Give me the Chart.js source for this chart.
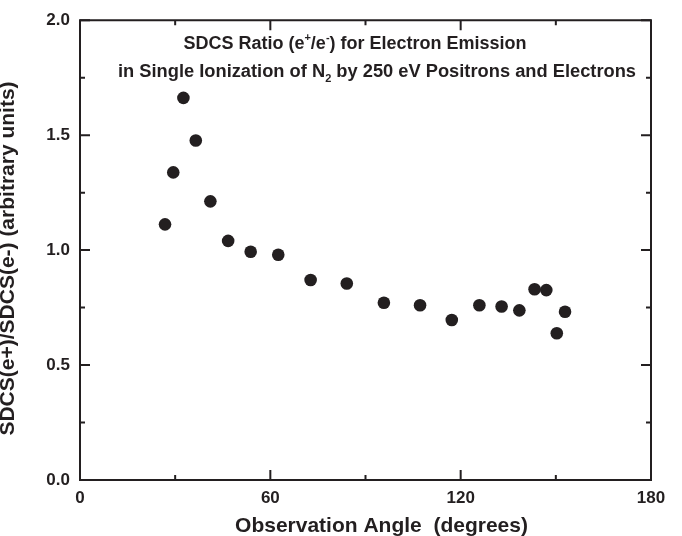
<!DOCTYPE html>
<html>
<head>
<meta charset="utf-8">
<script src="https://cdn.jsdelivr.net/npm/chart.js@4/dist/chart.umd.min.js"></script>
<style>
  html, body { margin: 0; padding: 0; background: #fff; }
  #wrap { width: 682px; height: 536px; position: relative; }
</style>
</head>
<body>
<div id="wrap"><canvas id="c" width="682" height="536"></canvas></div>
<script>
// ---- data ----
const angles = [26.8, 29.4, 32.6, 36.5, 41.1, 46.7, 53.8, 62.5, 72.7, 84.1, 95.8, 107.2, 117.2, 125.9, 132.9, 138.5, 143.3, 147.0, 150.3, 152.9];
const ratios = [1.112, 1.338, 1.662, 1.477, 1.212, 1.040, 0.993, 0.980, 0.870, 0.855, 0.771, 0.760, 0.696, 0.760, 0.755, 0.738, 0.830, 0.826, 0.638, 0.732];
const xTickValues = [0, 60, 120, 180];
const yTickValues = [0.0, 0.5, 1.0, 1.5, 2.0];
const xTitle = 'Observation Angle  (degrees)';
const yTitle = 'SDCS(e+)/SDCS(e-) (arbitrary units)';
const titleLine1 = [['SDCS Ratio (e', 'n'], ['+', 'sup'], ['/e', 'n'], ['-', 'sup'], [') for Electron Emission', 'n']];
const titleLine2 = [['in Single Ionization of N', 'n'], ['2', 'sub'], [' by 250 eV Positrons and Electrons', 'n']];

const INK = '#231f20';
const FAM = '"Liberation Sans", Arial, Helvetica, sans-serif';

const points = angles.map((a, i) => ({ x: a, y: ratios[i] }));

function drawRich(ctx, parts, cx, baseline, size) {
  const small = Math.round(size * 0.62);
  let total = 0;
  parts.forEach(([t, k]) => {
    ctx.font = 'bold ' + (k === 'n' ? size : small) + 'px ' + FAM;
    total += ctx.measureText(t).width;
  });
  let x = cx - total / 2;
  ctx.textAlign = 'left';
  ctx.textBaseline = 'alphabetic';
  parts.forEach(([t, k]) => {
    ctx.font = 'bold ' + (k === 'n' ? size : small) + 'px ' + FAM;
    let y = baseline;
    if (k === 'sup') y = baseline - size * 0.42;
    if (k === 'sub') y = baseline + size * 0.25;
    ctx.fillText(t, x, y);
    x += ctx.measureText(t).width;
  });
}

const framePlugin = {
  id: 'frame',
  afterDraw(chart) {
    const ctx = chart.ctx;
    const xs = chart.scales.x, ys = chart.scales.y;
    const a = chart.chartArea;
    ctx.save();
    ctx.strokeStyle = INK;
    ctx.lineWidth = 2;
    // box
    ctx.beginPath();
    ctx.rect(a.left, a.top, a.right - a.left, a.bottom - a.top);
    ctx.stroke();
    // inward ticks
    ctx.beginPath();
    xs.ticks.forEach(t => {
      const px = xs.getPixelForValue(t.value);
      const len = (t.value % 60 === 0) ? 10 : 5;
      ctx.moveTo(px, a.bottom); ctx.lineTo(px, a.bottom - len);
      ctx.moveTo(px, a.top); ctx.lineTo(px, a.top + len);
    });
    ys.ticks.forEach(t => {
      const py = ys.getPixelForValue(t.value);
      const len = (Math.abs((t.value * 2) - Math.round(t.value * 2)) < 1e-6) ? 10 : 5;
      ctx.moveTo(a.left, py); ctx.lineTo(a.left + len, py);
      ctx.moveTo(a.right, py); ctx.lineTo(a.right - len, py);
    });
    ctx.stroke();
    // titles
    ctx.fillStyle = INK;
    drawRich(ctx, titleLine1, 355, 49, 18);
    drawRich(ctx, titleLine2, 377, 77, 18.3);
    ctx.font = 'bold 21px ' + FAM;
    ctx.textAlign = 'center';
    ctx.textBaseline = 'middle';
    ctx.fillText(xTitle, 381.5, 526);
    ctx.translate(8, 258.5);
    ctx.rotate(-Math.PI / 2);
    ctx.fillText(yTitle, 0, 0);
    ctx.restore();
  }
};

new Chart(document.getElementById('c'), {
  type: 'scatter',
  data: {
    datasets: [{
      data: points,
      backgroundColor: INK,
      borderWidth: 0,
      pointRadius: 6.3,
      pointHoverRadius: 6.3
    }]
  },
  options: {
    responsive: false,
    animation: false,
    devicePixelRatio: 1,
    layout: { padding: { top: 20, right: 31, left: 0, bottom: 0 } },
    plugins: { legend: { display: false }, tooltip: { enabled: false }, title: { display: false } },
    scales: {
      x: {
        type: 'linear', min: 0, max: 180,
        afterFit: s => { s.height = 56; },
        grid: { display: false, drawTicks: false },
        border: { display: false },
        ticks: {
          stepSize: 30, autoSkip: false, maxRotation: 0, padding: 8,
          color: INK, font: { family: FAM, size: 17, weight: 'bold' },
          callback: v => xTickValues.includes(v) ? String(v) : ''
        }
      },
      y: {
        type: 'linear', min: 0, max: 2,
        afterFit: s => { s.width = 80; },
        grid: { display: false, drawTicks: false },
        border: { display: false },
        ticks: {
          stepSize: 0.25, autoSkip: false, padding: 10,
          color: INK, font: { family: FAM, size: 17, weight: 'bold' },
          callback: v => yTickValues.some(t => Math.abs(t - v) < 1e-6) ? v.toFixed(1) : ''
        }
      }
    }
  },
  plugins: [framePlugin]
});
</script>
</body>
</html>
